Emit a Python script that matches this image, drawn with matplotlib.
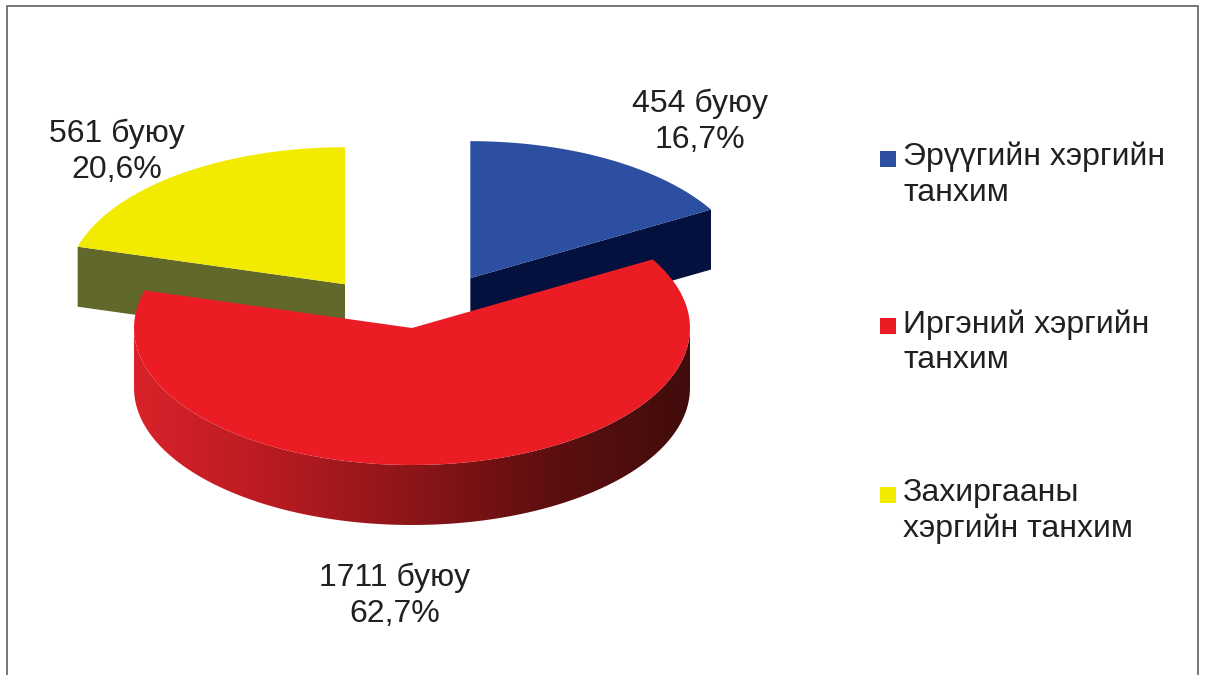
import numpy as np
import matplotlib
matplotlib.use("Agg")
import matplotlib.pyplot as plt
from matplotlib.patches import Polygon, Rectangle
from matplotlib.colors import LinearSegmentedColormap

plt.rcParams["font.family"] = ["Liberation Sans", "DejaVu Sans"]

# data
categories = ["Эрүүгийн хэргийн\nтанхим", "Иргэний хэргийн\nтанхим", "Захиргааны\nхэргийн танхим"]
values = [454, 1711, 561]
shares = ["16,7%", "62,7%", "20,6%"]

top_colors = ["#2c4fa2", "#ec1c24", "#f2ea00"]
side_colors = ["#04103e", "#8a1418", "#62672c"]
explode = [0.42, 0.0, 0.40]

# pie geometry in pixel space (y grows downward)
CX, CY = 412, 328
RX, RY = 278, 137
DEPTH = 60
START = 90.0

label_pos = [(700, 122), (395, 596), (117, 152)]
legend_xy = [(880, 151), (880, 318), (880, 487)]

fig = plt.figure(figsize=(12.05, 6.75), dpi=100)
ax = fig.add_axes([0, 0, 1, 1])
ax.set_xlim(0, 1205)
ax.set_ylim(675, 0)
ax.axis("off")

# frame (open at the bottom, as in the original)
ax.plot([7, 7, 1198, 1198], [675, 6, 6, 675], color="#6b6b6b", lw=1.3, zorder=0)


def rim(cx, cy, ang, dz=0.0):
    a = np.radians(ang)
    return cx + RX * np.cos(a), cy - RY * np.sin(a) + dz


def arc(cx, cy, a1, a2, dz=0.0, n=120):
    t = np.linspace(a1, a2, n)
    x, y = rim(cx, cy, t, dz)
    return np.column_stack([x, y])


total = float(sum(values))
spans = []
a = START
for v in values:
    sweep = 360.0 * v / total
    spans.append((a, a - sweep))  # clockwise
    a -= sweep


def draw_slice(i, z):
    a1, a2 = spans[i]
    mid = np.radians((a1 + a2) / 2)
    cx = CX + explode[i] * RX * np.cos(mid)
    cy = CY - explode[i] * RY * np.sin(mid)

    # radial cut faces facing the viewer
    for edge, normal in ((a1, a1 + 90), (a2, a2 - 90)):
        if np.sin(np.radians(normal)) < -1e-6:
            ex, ey = rim(cx, cy, edge)
            face = [(cx, cy), (ex, ey), (ex, ey + DEPTH), (cx, cy + DEPTH)]
            ax.add_patch(Polygon(face, closed=True, fc=side_colors[i], ec="none", zorder=z))

    # outer wall on the front half
    lo, hi = max(a2, -180.0), min(a1, 0.0)
    if hi > lo:
        wall = np.vstack([arc(cx, cy, hi, lo), arc(cx, cy, lo, hi, DEPTH)])
        wp = Polygon(wall, closed=True, fc="none", ec="none", zorder=z)
        ax.add_patch(wp)
        if i == 1:
            cmap = LinearSegmentedColormap.from_list(
                "wall", ["#d9222a", "#b81b21", "#8c1518", "#5e0f10", "#420c0c"])
            grad = np.linspace(0, 1, 256).reshape(1, -1)
            im = ax.imshow(grad, cmap=cmap, aspect="auto", zorder=z,
                           extent=(cx - RX, cx + RX, cy + RY + DEPTH, cy - RY),
                           interpolation="bilinear")
            im.set_clip_path(wp)
        else:
            wp.set_facecolor(side_colors[i])

    # top face
    top = np.vstack([[(cx, cy)], arc(cx, cy, a1, a2), [(cx, cy)]])
    ax.add_patch(Polygon(top, closed=True, fc=top_colors[i], ec="none", zorder=z + 0.5))


# exploded back slices first, front slice last
draw_slice(2, 1)
draw_slice(0, 1)
draw_slice(1, 3)

ax.set_xlim(0, 1205)
ax.set_ylim(675, 0)

for (x, y), v, s in zip(label_pos, values, shares):
    ax.text(x, y, f"{v} буюу\n{s}", ha="center", va="center", fontsize=23,
            linespacing=1.25, color="#231f20", zorder=5)

for (x, y), name, col in zip(legend_xy, categories, top_colors):
    ax.add_patch(Rectangle((x, y), 16, 16, fc=col, ec="none", zorder=5))
    ax.text(x + 23, y - 9, name, ha="left", va="top", fontsize=23,
            linespacing=1.25, color="#231f20", zorder=5)

fig.savefig("out.png", dpi=100)
